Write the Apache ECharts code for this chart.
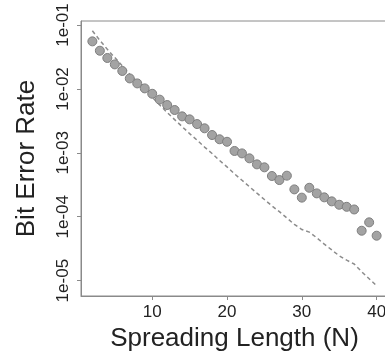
<!DOCTYPE html>
<html>
<head>
    <meta charset="UTF-8">
    <title>Bit Error Rate</title>
    <script src="https://cdn.jsdelivr.net/npm/echarts@6/dist/echarts.min.js"></script>
</head>
<body style="margin: 0">
<div id="container" style="width: 385px; height: 363px;"></div>
<script type="text/javascript">
    // spreading length N
    var lengths = [2, 3, 4, 5, 6, 7, 8, 9, 10, 11, 12, 13, 14, 15, 16, 17, 18, 19, 20, 21,
        22, 23, 24, 25, 26, 27, 28, 29, 30, 31, 32, 33, 34, 35, 36, 37, 38, 39, 40];
    // measured BER (points)
    var measured = [0.0555, 0.0396, 0.0305, 0.0242, 0.0191, 0.0146, 0.0122, 0.0102, 0.0084, 0.0068,
        0.0056, 0.00468, 0.00372, 0.00334, 0.00282, 0.00242, 0.0019, 0.00163, 0.00149, 0.00107,
        0.00098, 0.00082, 0.00066, 0.000593, 0.000434, 0.000375, 0.000439, 0.000268, 0.000199, 0.000284,
        0.000232, 0.000201, 0.000174, 0.000154, 0.000143, 0.00013, 0.0000604, 0.0000817, 0.0000505];
    // theoretical BER (dashed line)
    var theory = [0.0813, 0.0575, 0.0417, 0.0309, 0.0229, 0.0170, 0.0129, 0.00977, 0.00741, 0.00562,
        0.00427, 0.00331, 0.00257, 0.00200, 0.00158, 0.00123, 0.000977, 0.000759, 0.000603, 0.000468,
        0.000372, 0.000295, 0.000234, 0.000186, 0.000148, 0.000120, 0.0000955, 0.0000759, 0.0000631, 0.0000575,
        0.0000468, 0.0000372, 0.0000302, 0.0000245, 0.0000209, 0.0000182, 0.0000138, 0.0000107, 0.0000083];
    var xTicks = [10, 20, 30, 40];
    var yTicks = [1e-5, 1e-4, 1e-3, 1e-2, 1e-1];

    var pointData = [];
    var lineData = [];
    for (var i = 0; i < lengths.length; i++) {
        pointData.push([lengths[i], measured[i]]);
        lineData.push([lengths[i], theory[i]]);
    }

    var myChart = echarts.init(document.getElementById('container'));
    var axisGray = '#8a8a8a';
    var font = 'Liberation Sans, Arial, sans-serif';

    var option = {
        animation: false,
        grid: {
            left: 81, top: 21, right: -3, bottom: 67,
            outerBoundsMode: 'none',
            containLabel: false,
            show: true, borderColor: axisGray, borderWidth: 1
        },
        xAxis: {
            type: 'value',
            min: 0.48,
            max: 41.52,
            name: 'Spreading Length (N)',
            nameLocation: 'middle',
            nameGap: 28,
            nameTextStyle: {fontSize: 26, color: '#222', fontFamily: font},
            axisLine: {show: true, lineStyle: {color: axisGray}},
            axisTick: {show: true, length: 4, customValues: xTicks, lineStyle: {color: axisGray}},
            axisLabel: {
                customValues: xTicks, fontSize: 17, color: '#222', fontFamily: font, margin: 8,
                hideOverlap: false
            },
            splitLine: {show: false}
        },
        yAxis: {
            type: 'log',
            logBase: 10,
            min: 5.75e-6,
            max: 0.1156,
            name: 'Bit Error Rate',
            nameLocation: 'middle',
            nameGap: 41,
            nameTextStyle: {fontSize: 26, color: '#222', fontFamily: font},
            axisLine: {show: true, lineStyle: {color: axisGray}},
            axisTick: {show: true, length: 4, customValues: yTicks, lineStyle: {color: axisGray}},
            axisLabel: {
                customValues: yTicks, rotate: 90, fontSize: 17, color: '#222', fontFamily: font, margin: 9,
                formatter: function (v) {
                    var p = -Math.round(Math.log10(v));
                    return '1e-' + (p < 10 ? '0' + p : p);
                }
            },
            splitLine: {show: false}
        },
        series: [
            {
                name: 'theory',
                type: 'line',
                data: lineData,
                showSymbol: false,
                lineStyle: {color: '#8c8c8c', width: 1.5, type: [4, 3]},
                z: 1
            },
            {
                name: 'measured',
                type: 'scatter',
                data: pointData,
                symbolSize: 9,
                itemStyle: {color: '#a3a3a3', borderColor: '#7e7e7e', borderWidth: 1, opacity: 1},
                z: 2
            }
        ]
    };
    myChart.setOption(option);
</script>
</body>
</html>
